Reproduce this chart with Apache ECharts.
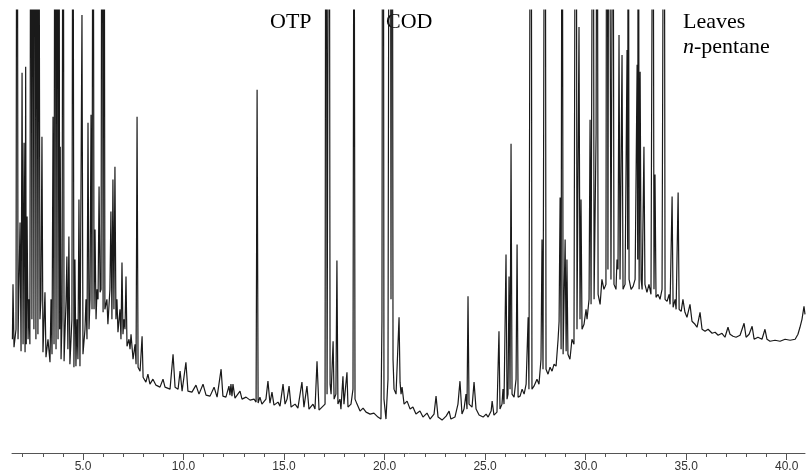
<!DOCTYPE html>
<html>
<head>
<meta charset="utf-8">
<script src="https://cdn.jsdelivr.net/npm/echarts@6/dist/echarts.min.js"></script>
<style>
  html, body { margin: 0; padding: 0; background: #fff; }
  #chart { width: 808px; height: 473px; }
</style>
</head>
<body>
<div id="chart"></div>
<script>
// Retention time (min) of each vertex of the detector trace
const retentionMin = [
  1.49,1.52,1.57,1.67,1.72,1.77,1.87,1.92,1.97,2.02,2.07,2.12,2.15,2.18,2.22,2.27,2.31,2.36,2.41,2.46,
  2.51,2.56,2.61,2.66,2.71,2.76,2.81,2.86,2.91,2.96,3.01,3.11,3.16,3.26,3.36,3.41,3.46,3.51,3.56,3.61,
  3.66,3.71,3.76,3.81,3.84,3.87,3.91,3.96,4.01,4.06,4.16,4.20,4.25,4.30,4.35,4.45,4.50,4.55,4.60,4.65,
  4.70,4.75,4.80,4.85,4.95,5.00,5.10,5.15,5.20,5.25,5.30,5.35,5.40,5.45,5.50,5.55,5.60,5.65,5.70,5.75,
  5.80,5.85,5.90,5.95,6.00,6.05,6.09,6.19,6.24,6.34,6.39,6.44,6.49,6.54,6.59,6.64,6.69,6.74,6.84,6.89,
  6.94,6.99,7.04,7.09,7.14,7.19,7.29,7.34,7.39,7.49,7.59,7.64,7.69,7.74,7.84,7.94,7.99,
  8.13,8.23,8.33,8.48,8.63,8.83,8.98,9.08,9.33,9.48,9.58,9.73,9.83,9.93,10.12,10.22,10.42,10.62,10.77,10.97,
  11.12,11.32,11.52,11.67,11.87,11.96,12.11,12.26,12.31,12.36,12.41,12.46,12.56,12.81,12.91,13.11,13.31,13.51,13.61,13.66,
  13.71,13.80,13.90,14.10,14.20,14.30,14.40,14.50,14.70,14.80,14.95,15.05,15.15,15.25,15.35,15.55,15.69,15.89,15.99,16.14,
  16.24,16.44,16.54,16.64,16.74,16.89,17.04,
  17.09,17.14,17.24,17.29,17.34,17.44,17.49,17.58,17.63,17.68,17.78,17.83,17.93,17.98,18.13,18.18,18.33,18.43,18.48,18.53,
  18.63,18.78,18.93,19.08,19.28,19.47,19.67,19.82,19.87,19.92,19.97,20.07,20.17,20.27,20.32,20.37,20.42,20.47,20.57,20.72,
  20.77,20.82,20.87,20.97,21.12,21.27,21.41,21.56,21.76,21.91,22.11,22.26,22.46,22.56,22.66,22.86,23.06,23.21,23.30,23.50,
  23.65,23.75,23.85,23.95,24.05,24.10,24.15,24.20,24.35,24.45,24.55,24.70,24.90,25.05,25.15,25.30,25.35,25.44,25.59,25.69,
  25.74,25.84,25.89,25.94,26.04,26.09,26.14,26.19,26.24,26.29,26.34,26.44,26.54,26.59,26.64,26.74,26.84,26.94,27.04,27.14,
  27.18,27.28,27.33,27.43,27.58,27.68,27.78,27.83,27.88,27.98,28.03,28.13,28.23,28.33,28.43,28.53,28.63,28.68,28.73,28.78,
  28.83,28.88,28.98,29.03,29.07,29.12,29.22,29.32,29.42,29.52,29.57,29.67,29.72,29.77,29.82,29.92,30.02,30.07,30.17,30.22,
  30.27,30.37,30.42,30.52,30.57,30.62,30.72,30.81,30.91,31.01,31.06,31.11,31.16,31.26,31.36,31.41,31.51,31.56,31.61,31.66,
  31.71,31.81,31.86,31.96,32.06,32.09,32.12,32.16,32.26,32.36,32.46,32.56,32.59,32.62,32.66,32.71,32.76,32.81,32.90,32.95,
  33.05,33.15,33.25,33.35,33.40,33.45,33.50,33.60,33.70,33.80,33.90,33.95,34.05,34.15,34.20,34.30,34.35,34.45,34.50,34.60,
  34.65,34.75,34.84,34.94,35.04,35.19,35.29,35.44,35.54,35.69,35.79,35.94,36.09,36.29,36.44,36.59,36.78,36.93,37.08,37.18,
  37.33,37.48,37.68,37.88,37.98,38.13,38.28,38.38,38.57,38.77,38.92,39.02,39.17,39.42,39.67,39.92,40.17,40.42,40.56,40.66,
  40.76,40.86,40.91
];

// Detector response at each vertex (arbitrary units; tall solvent/standard peaks run off scale)
const detectorSignal = [
  114,169,106,124,900,114,231,102,381,109,311,101,387,109,237,114,154,109,820,134,
  760,124,880,114,700,119,650,134,154,317,101,161,96,114,91,154,99,337,109,840,
  104,760,114,690,124,307,94,134,800,92,154,197,104,217,89,134,720,86,194,87,
  134,94,254,87,439,99,124,154,114,331,124,154,339,144,780,144,224,134,164,154,
  267,161,164,860,141,740,144,154,129,164,242,134,274,144,287,134,154,121,144,114,
  191,119,134,124,177,107,114,104,119,94,109,89,337,86,82,117,76,
  71,79,69,74,68,66,74,66,64,99,66,64,82,62,91,62,61,68,59,69,
  58,57,66,56,84,57,56,67,58,69,57,69,55,62,54,56,53,54,51,364,
  50,56,49,54,72,50,61,48,51,47,69,49,54,67,46,49,45,71,46,67,
  44,49,44,92,43,46,49,
  950,59,880,69,59,112,54,59,193,49,54,44,77,49,81,46,49,64,720,54,
  49,42,45,41,39,40,36,34,134,1100,54,34,74,1200,154,1000,94,64,59,136,
  71,59,66,49,52,44,46,39,42,36,40,34,39,57,36,33,37,42,34,36,
  49,72,39,44,59,44,157,49,46,71,44,38,36,39,36,42,52,38,41,122,
  44,49,64,49,199,54,59,177,64,310,59,56,74,209,56,57,64,59,69,136,
  64,900,64,67,74,69,94,214,84,850,84,79,86,82,89,87,114,132,256,104,
  780,99,214,102,194,99,94,114,109,900,124,427,134,254,124,129,144,134,154,334,
  149,820,154,321,760,159,149,174,164,169,900,184,850,174,700,169,164,194,184,419,
  174,399,164,169,404,204,780,174,164,167,174,389,194,860,164,382,174,164,307,169,
  161,169,159,720,164,279,156,159,154,164,800,154,152,159,149,257,146,154,144,261,
  144,142,154,141,136,149,132,129,126,141,124,122,124,120,121,118,120,116,126,119,
  117,116,118,130,116,119,127,114,116,114,124,114,112,113,112,114,113,114,119,126,
  134,147,139
];

// Labelled (major) ticks of the time axis
const majorTicks = [5, 10, 15, 20, 25, 30, 35, 40];

// Peak and sample annotations
const peakLabels = ['OTP', 'COD'];
const sampleLabel = ['Leaves', 'n-pentane'];

const trace = retentionMin.map((t, i) => [t, detectorSignal[i]]);

const chart = echarts.init(document.getElementById('chart'), null, { renderer: 'canvas' });

const serif = '"Liberation Serif", "Times New Roman", serif';
const axisColor = '#555';

chart.setOption({
  animation: false,
  backgroundColor: '#fff',
  grid: { left: 12, right: 3, top: 10, bottom: 19, containLabel: false },
  xAxis: {
    type: 'value',
    min: 1.47,
    max: 40.91,
    splitNumber: 8,
    minInterval: 5,
    maxInterval: 5,
    axisLine: { show: true, lineStyle: { color: axisColor, width: 1 } },
    axisTick: { show: true, length: 7, customValues: majorTicks, lineStyle: { color: axisColor, width: 1 } },
    minorTick: { show: true, splitNumber: 5, length: 4, lineStyle: { color: axisColor, width: 1 } },
    splitLine: { show: false },
    minorSplitLine: { show: false },
    axisLabel: {
      show: true,
      margin: 8,
      color: '#333',
      fontSize: 12,
      fontFamily: '"Liberation Sans Narrow", "Liberation Sans", Arial, sans-serif',
      customValues: majorTicks,
      formatter: v => v.toFixed(1)
    }
  },
  yAxis: {
    type: 'value',
    min: 0,
    max: 444,
    show: false,
    splitLine: { show: false }
  },
  series: [{
    type: 'line',
    data: trace,
    clip: true,
    showSymbol: false,
    symbol: 'none',
    silent: true,
    lineStyle: { color: '#1a1a1a', width: 1.2 }
  }],
  graphic: [
    { type: 'text', left: 270, top: 11, style: { text: peakLabels[0], font: '22px ' + serif, fill: '#000' } },
    { type: 'text', left: 386, top: 11, style: { text: peakLabels[1], font: '22px ' + serif, fill: '#000' } },
    { type: 'text', left: 683, top: 11, style: { text: sampleLabel[0], font: '22px ' + serif, fill: '#000' } },
    {
      type: 'text', left: 683, top: 36,
      style: {
        text: '{i|' + sampleLabel[1].slice(0, 1) + '}{r|' + sampleLabel[1].slice(1) + '}',
        rich: {
          i: { font: 'italic 22px ' + serif, fill: '#000' },
          r: { font: '22px ' + serif, fill: '#000' }
        }
      }
    }
  ]
});
</script>
</body>
</html>
